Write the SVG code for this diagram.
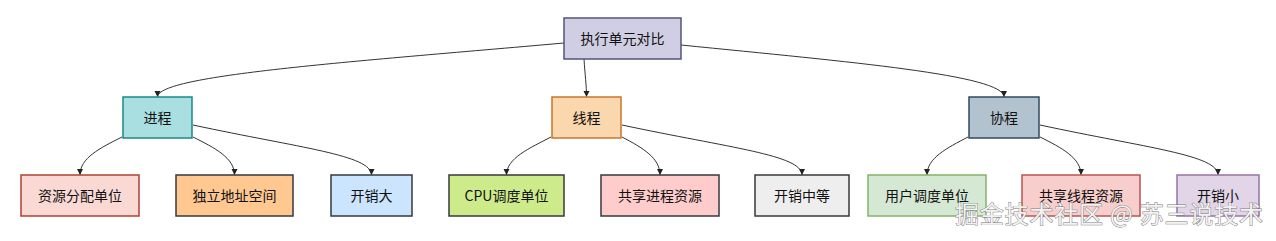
<svg xmlns="http://www.w3.org/2000/svg" width="1276" height="241" viewBox="0 0 1276 241">
<defs>
<marker id="arr" markerWidth="7" markerHeight="7" refX="6" refY="3" orient="auto" markerUnits="userSpaceOnUse">
<path d="M0,0 L6,3 L0,6 z" fill="#222"/>
</marker>
<style>
.n rect{stroke-width:1.5}
.n text{font-family:"Noto Sans CJK SC","Noto Sans",sans-serif;font-size:14px;fill:#111;text-anchor:middle}
.e path{fill:none;stroke:#333;stroke-width:1;marker-end:url(#arr)}
.wm{font-family:"Noto Sans CJK SC",sans-serif;font-size:24px;fill:#f2f2f2;stroke:#7a7a7a;stroke-width:0.9;paint-order:stroke}
</style>
</defs>
<rect width="1276" height="241" fill="#ffffff"/>
<g id="connectors" class="e">
<path d="M564,43 C350,62 157.5,75 157.5,97"/>
<path d="M584,59 C585,75 586.5,85 586.5,97"/>
<path d="M681,45 C850,62 1004,75 1004,97"/>
<path d="M122,137 C100,148 80,158 80,175"/>
<path d="M193,137 C215,148 234.5,158 234.5,175"/>
<path d="M193,125 C300,148 371.5,155 371.5,175"/>
<path d="M551,137 C530,148 506.5,158 506.5,175"/>
<path d="M622,137 C643,148 660,158 660,175"/>
<path d="M622,125 C730,148 802,155 802,175"/>
<path d="M968,137 C947,148 927,158 927,175"/>
<path d="M1040,137 C1062,148 1081,158 1081,175"/>
<path d="M1040,125 C1147,148 1218,155 1218,175"/>
</g>
<g id="root" class="n"><rect x="564" y="18" width="117" height="41" fill="#d0cee2" stroke="#56517e"/><text x="622.5" y="43.5">执行单元对比</text></g>
<g id="process" class="n"><rect x="123" y="97" width="69" height="41" fill="#a9dfe0" stroke="#168a8a"/><text x="157.5" y="122.5">进程</text></g>
<g id="thread" class="n"><rect x="552" y="97" width="69" height="41" fill="#fad7ac" stroke="#c9772a"/><text x="586.5" y="122.5">线程</text></g>
<g id="coroutine" class="n"><rect x="969" y="97" width="70" height="41" fill="#b2c3cf" stroke="#2f4a5e"/><text x="1004" y="122.5">协程</text></g>
<g id="p1" class="n"><rect x="21" y="175" width="118" height="41" fill="#fad9d5" stroke="#ae4132"/><text x="80" y="200.5">资源分配单位</text></g>
<g id="p2" class="n"><rect x="176" y="175" width="117" height="41" fill="#ffc891" stroke="#36393d"/><text x="234.5" y="200.5">独立地址空间</text></g>
<g id="p3" class="n"><rect x="331" y="175" width="81" height="41" fill="#cce5ff" stroke="#36393d"/><text x="371.5" y="200.5">开销大</text></g>
<g id="t1" class="n"><rect x="449" y="175" width="115" height="41" fill="#cdeb8b" stroke="#36393d"/><text x="506.5" y="200.5">CPU调度单位</text></g>
<g id="t2" class="n"><rect x="601" y="175" width="118" height="41" fill="#ffcccc" stroke="#36393d"/><text x="660" y="200.5">共享进程资源</text></g>
<g id="t3" class="n"><rect x="755" y="175" width="94" height="41" fill="#eeeeee" stroke="#36393d"/><text x="802" y="200.5">开销中等</text></g>
<g id="c1" class="n"><rect x="868" y="175" width="118" height="41" fill="#d5e8d4" stroke="#82b366"/><text x="927" y="200.5">用户调度单位</text></g>
<g id="c2" class="n"><rect x="1022" y="175" width="118" height="41" fill="#f8cecc" stroke="#b85450"/><text x="1081" y="200.5">共享线程资源</text></g>
<g id="c3" class="n"><rect x="1177" y="175" width="82" height="41" fill="#e1d5e7" stroke="#9673a6"/><text x="1218" y="200.5">开销小</text></g>
<text class="wm" x="955" y="223" textLength="308" lengthAdjust="spacing">掘金技术社区 @ 苏三说技术</text>
</svg>
